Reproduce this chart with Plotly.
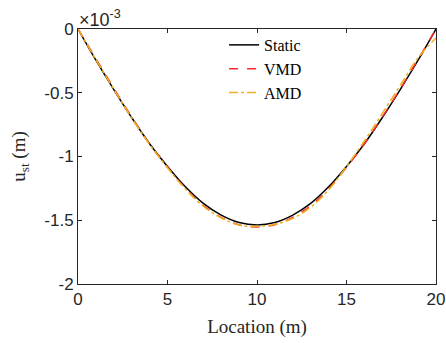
import plotly.graph_objects as go

# Location (m)
location = [0, 1, 2, 3, 4, 5, 6, 7, 8, 9, 10, 11, 12, 13, 14, 15, 16, 17, 18, 19, 20]
# Displacement values in units of 1e-3 m
static = [0, -0.245, -0.475, -0.695, -0.900, -1.078, -1.238, -1.368, -1.460, -1.518, -1.537,
          -1.518, -1.460, -1.368, -1.238, -1.078, -0.900, -0.695, -0.475, -0.245, 0]
vmd = [0, -0.232, -0.465, -0.690, -0.902, -1.085, -1.250, -1.385, -1.478, -1.537, -1.552,
       -1.535, -1.478, -1.385, -1.255, -1.085, -0.900, -0.690, -0.470, -0.238, 0]
amd = [0, -0.240, -0.472, -0.697, -0.905, -1.088, -1.255, -1.390, -1.482, -1.537, -1.548,
       -1.532, -1.485, -1.398, -1.262, -1.078, -0.878, -0.662, -0.442, -0.225, -0.07]

x_ticks = [0, 5, 10, 15, 20]
y_ticks = [0, -0.5, -1, -1.5, -2]
y_tick_labels = ["0", "-0.5", "-1", "-1.5", "-2"]

fig = go.Figure()
fig.add_trace(go.Scatter(x=location, y=static, mode="lines", name="Static",
                         line=dict(color="black", width=1.5, shape="spline")))
fig.add_trace(go.Scatter(x=location, y=vmd, mode="lines", name="VMD",
                         line=dict(color="#ff2a2a", width=1.5, dash="dash", shape="spline")))
fig.add_trace(go.Scatter(x=location, y=amd, mode="lines", name="AMD",
                         line=dict(color="#EDB120", width=1.5, dash="dashdot", shape="spline")))

axis_common = dict(showline=True, linecolor="#262626", linewidth=1, mirror="ticks",
                   ticks="inside", ticklen=4, tickcolor="#262626", showgrid=False,
                   zeroline=False, automargin=False,
                   tickfont=dict(family="Liberation Sans, Arial", size=17, color="#262626"))

fig.update_layout(
    width=446, height=343,
    margin=dict(l=78, r=10, t=29, b=59),
    plot_bgcolor="white", paper_bgcolor="white",
    xaxis=dict(range=[0, 20], tickvals=x_ticks, ticktext=[str(v) for v in x_ticks],
               title=dict(text="Location (m)", standoff=11,
                          font=dict(family="Liberation Serif, Times New Roman", size=19, color="#262626")),
               **axis_common),
    yaxis=dict(range=[-2, 0], tickvals=y_ticks, ticktext=y_tick_labels,
               title=dict(text="u<sub>st</sub> (m)", standoff=13,
                          font=dict(family="Liberation Serif, Times New Roman", size=19, color="#262626")),
               **axis_common),
    legend=dict(x=0.408, y=1.004, xanchor="left", yanchor="top",
                bgcolor="rgba(255,255,255,0)", borderwidth=0,
                font=dict(family="Liberation Serif, Times New Roman", size=16, color="black"),
                tracegroupgap=0),
    showlegend=True,
    annotations=[dict(text="×10<sup>-3</sup>", xref="paper", yref="paper", x=0, y=1,
                      xanchor="left", yanchor="bottom", showarrow=False, xshift=-1, yshift=-3,
                      font=dict(family="Liberation Sans, Arial", size=18, color="#262626"))],
)

fig.write_html("out.html")
